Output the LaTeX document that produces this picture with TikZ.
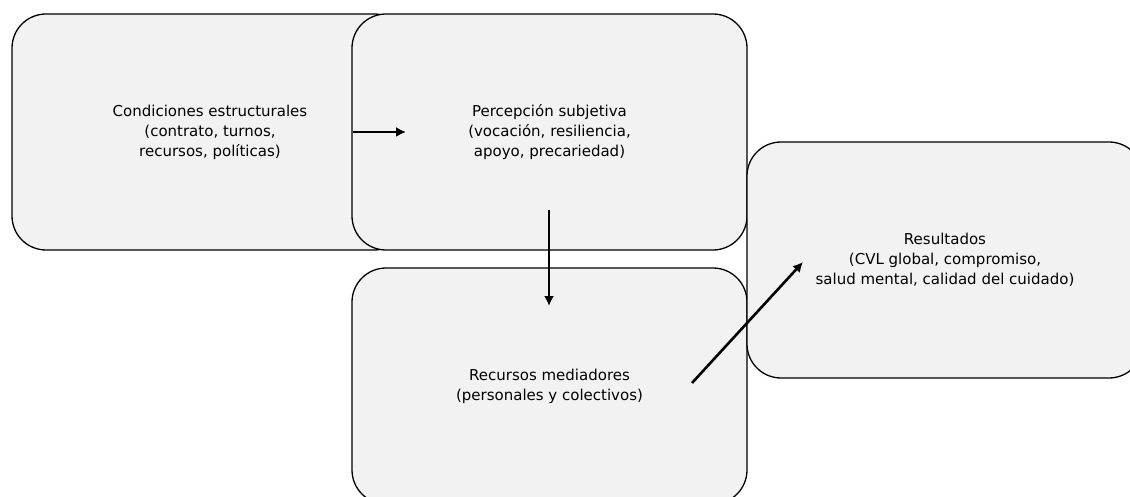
\documentclass[tikz,border=0pt]{standalone}
\usepackage{fontspec}
\setmainfont{DejaVu Sans}
\usetikzlibrary{arrows.meta}
\definecolor{boxfill}{HTML}{F2F2F2}
\tikzset{
  box/.style={draw=black, line width=1.3pt, fill=boxfill, rounded corners=34pt,
    minimum height=236pt, align=center, inner sep=0pt,
    font=\fontsize{15}{20}\selectfont},
  conn/.style={line width=2.6pt, -{Latex[length=10pt,width=10pt]}}
}
\begin{document}
\begin{tikzpicture}[x=1pt,y=-1pt]
\useasboundingbox (0,0) rectangle (1130,497);
\clip (0,0) rectangle (1130,497);
\fill[white] (0,0) rectangle (1130,497);
\node[box, minimum width=396pt] (b1) at (210,132) {Condiciones estructurales\\(contrato, turnos,\\recursos, políticas)};
\node[box, minimum width=395pt] (b2) at (549.5,132) {Percepción subjetiva\\(vocación, resiliencia,\\apoyo, precariedad)};
\node[box, minimum width=395pt] (b3) at (549.5,386) {Recursos mediadores\\(personales y colectivos)};
\node[box, minimum width=396pt] (b4) at (945,260) {Resultados\\(CVL global, compromiso,\\salud mental, calidad del cuidado)};
\coordinate (a1s) at (353,132);
\coordinate (a1e) at (406,132);
\coordinate (a2s) at (549,210);
\coordinate (a2e) at (549,306);
\coordinate (a3s) at (692,383);
\coordinate (a3e) at (803,262);
\draw[conn] (a1s) -- (a1e);
\draw[conn] (a2s) -- (a2e);
\draw[conn] (a3s) -- (a3e);
\end{tikzpicture}
\end{document}
